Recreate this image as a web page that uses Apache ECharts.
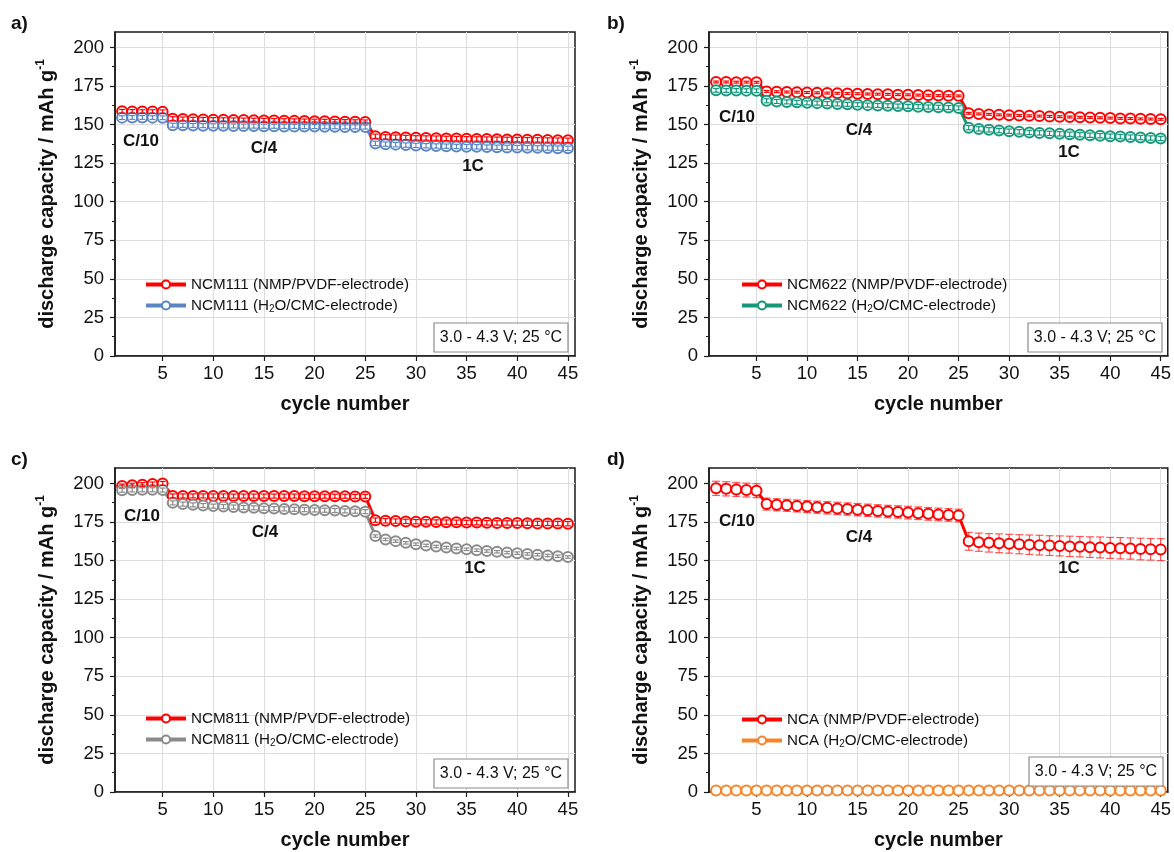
<!DOCTYPE html>
<html>
<head>
<meta charset="utf-8">
<title>Discharge capacity vs. cycle number</title>
<script src="https://cdn.jsdelivr.net/npm/echarts@6/dist/echarts.min.js"></script>
<style>
  html, body { margin: 0; padding: 0; background: #ffffff; }
  #chart { width: 1174px; height: 852px; }
</style>
</head>
<body>
<div id="chart"></div>
<script>
// ---- data -------------------------------------------------------------
const cycles = [1,2,3,4,5,6,7,8,9,10,11,12,13,14,15,16,17,18,19,20,21,22,23,24,25,
                26,27,28,29,30,31,32,33,34,35,36,37,38,39,40,41,42,43,44,45];
const xTicks = [5,10,15,20,25,30,35,40,45];
const yTicks = [0,25,50,75,100,125,150,175,200];

// a) NCM111
const ncm111Pvdf = [158.6,158.5,158.4,158.4,158.3,
  153.8,153.6,153.4,153.3,153.2,153.1,153.0,152.9,152.8,152.7,152.6,152.5,152.4,152.3,152.2,152.1,152.0,151.9,151.8,151.7,
  142.4,142.0,141.8,141.6,141.4,141.3,141.2,141.0,140.9,140.8,140.7,140.6,140.5,140.4,140.3,140.2,140.1,140.0,139.9,139.8];
const ncm111Cmc = [154.5,154.6,154.6,154.5,154.4,
  149.6,149.5,149.4,149.3,149.2,149.2,149.1,149.0,149.0,148.9,148.9,148.8,148.8,148.7,148.7,148.6,148.6,148.5,148.5,148.4,
  137.8,137.3,137.0,136.7,136.5,136.3,136.1,136.0,135.8,135.7,135.6,135.4,135.3,135.2,135.1,135.0,134.9,134.8,134.7,134.6];
const ncm111PvdfErr = [1.2,1.2,1.2,1.2,1.2, 1.3,1.3,1.3,1.3,1.3,1.3,1.3,1.3,1.3,1.3,1.3,1.3,1.3,1.3,1.3,1.3,1.3,1.3,1.3,1.3,
  1.4,1.4,1.4,1.4,1.4,1.4,1.4,1.4,1.4,1.4,1.4,1.4,1.4,1.4,1.4,1.4,1.4,1.4,1.4,1.4];
const ncm111CmcErr = [1.2,1.2,1.2,1.2,1.2, 1.3,1.3,1.3,1.3,1.3,1.3,1.3,1.3,1.3,1.3,1.3,1.3,1.3,1.3,1.3,1.3,1.3,1.3,1.3,1.3,
  1.4,1.4,1.4,1.4,1.4,1.4,1.4,1.4,1.4,1.4,1.4,1.4,1.4,1.4,1.4,1.4,1.4,1.4,1.4,1.4];

// b) NCM622
const ncm622Pvdf = [177.6,177.6,177.5,177.5,177.4,
  171.5,171.3,171.1,171.0,170.8,170.6,170.4,170.3,170.1,170.0,169.8,169.7,169.6,169.4,169.3,169.1,169.0,168.8,168.7,168.6,
  157.3,156.9,156.6,156.3,156.1,155.9,155.7,155.5,155.3,155.1,154.9,154.7,154.6,154.4,154.2,154.0,153.9,153.7,153.6,153.4];
const ncm622Cmc = [172.2,172.1,172.1,172.0,171.9,
  165.4,165.0,164.7,164.4,164.1,163.9,163.6,163.4,163.1,162.9,162.6,162.4,162.2,162.0,161.8,161.6,161.4,161.2,161.0,160.8,
  148.0,147.2,146.6,146.1,145.7,145.3,144.9,144.6,144.3,144.0,143.7,143.4,143.1,142.8,142.5,142.2,141.9,141.6,141.3,141.0];
const ncm622PvdfErr = [0.6,0.6,0.6,0.6,0.6, 0.6,0.6,0.6,0.6,0.6,0.6,0.6,0.6,0.6,0.6,0.6,0.6,0.6,0.6,0.6,0.6,0.6,0.6,0.6,0.6,
  0.6,0.6,0.6,0.6,0.6,0.6,0.6,0.6,0.6,0.6,0.6,0.6,0.6,0.6,0.6,0.6,0.6,0.6,0.6,0.6];
const ncm622CmcErr = [1.2,1.2,1.2,1.2,1.2, 1.3,1.3,1.3,1.3,1.3,1.3,1.3,1.3,1.3,1.3,1.3,1.3,1.3,1.3,1.3,1.3,1.3,1.3,1.3,1.3,
  1.4,1.4,1.4,1.4,1.4,1.4,1.4,1.4,1.4,1.4,1.4,1.4,1.4,1.4,1.4,1.4,1.4,1.4,1.4,1.4];

// c) NCM811
const ncm811Pvdf = [198.3,198.8,199.2,199.6,200.0,
  191.9,191.9,191.9,191.9,191.9,191.9,191.8,191.8,191.8,191.8,191.8,191.8,191.8,191.7,191.7,191.7,191.7,191.7,191.6,191.6,
  176.2,175.8,175.6,175.4,175.2,175.1,175.0,174.9,174.8,174.7,174.6,174.5,174.4,174.4,174.3,174.2,174.1,174.1,174.0,173.9];
const ncm811Cmc = [195.6,195.8,195.9,195.9,195.7,
  187.4,186.6,186.1,185.7,185.3,185.0,184.7,184.4,184.2,183.9,183.7,183.5,183.2,183.0,182.8,182.6,182.4,182.2,182.0,181.7,
  165.9,163.7,162.6,161.5,160.6,159.8,159.1,158.4,157.8,157.3,156.7,156.2,155.7,155.2,154.8,154.3,153.8,153.3,152.8,152.3];
const ncm811PvdfErr = [1.3,1.3,1.3,1.3,1.3, 1.3,1.3,1.3,1.3,1.3,1.3,1.3,1.3,1.3,1.3,1.3,1.3,1.3,1.3,1.3,1.3,1.3,1.3,1.3,1.3,
  1.4,1.4,1.4,1.4,1.4,1.4,1.4,1.4,1.4,1.4,1.4,1.4,1.4,1.4,1.4,1.4,1.4,1.4,1.4,1.4];
const ncm811CmcErr = [1.3,1.3,1.3,1.3,1.3, 1.3,1.3,1.3,1.3,1.3,1.3,1.3,1.3,1.3,1.3,1.3,1.3,1.3,1.3,1.3,1.3,1.3,1.3,1.3,1.3,
  0.8,0.8,0.8,0.8,0.8,0.8,0.8,0.8,0.8,0.8,0.8,0.8,0.8,0.8,0.8,0.8,0.8,0.8,0.8,0.8];

// d) NCA
const ncaPvdf = [196.8,196.5,196.1,195.7,195.3,
  186.6,186.2,185.8,185.4,185.0,184.6,184.2,183.8,183.4,183.0,182.6,182.2,181.8,181.5,181.1,180.7,180.3,179.9,179.6,179.2,
  162.5,161.9,161.5,161.2,160.9,160.6,160.3,160.0,159.7,159.5,159.2,159.0,158.7,158.5,158.2,158.0,157.8,157.5,157.3,157.1];
const ncaPvdfErr = [4.6,4.6,4.5,4.5,4.5,
  3.9,3.9,3.9,3.9,3.9,3.9,4.0,4.0,4.0,4.0,4.0,4.0,4.0,4.0,4.1,4.1,4.1,4.1,4.1,4.1,
  5.8,5.9,6.0,6.1,6.1,6.2,6.3,6.4,6.4,6.5,6.6,6.6,6.7,6.8,6.8,6.9,6.9,7.0,7.0,7.1];
const ncaCmc = [1.0,1.0,1.0,1.0,1.0,1.0,1.0,1.0,1.0,1.0,1.0,1.0,1.0,1.0,1.0,1.0,1.0,1.0,1.0,1.0,1.0,1.0,1.0,1.0,1.0,
  1.0,1.0,1.0,1.0,1.0,1.0,1.0,1.0,1.0,1.0,1.0,1.0,1.0,1.0,1.0,1.0,1.0,1.0,1.0,1.0];

// ---- layout & style ---------------------------------------------------
const FONT = '"Liberation Sans", Arial, Helvetica, sans-serif';
const RED = '#ff0000';
const panels = [
  { key: 'a)', grid: { left: 115, top: 32 },
    series: [
      { name: 'NCM111 (NMP/PVDF-electrode)', data: ncm111Pvdf, err: ncm111PvdfErr, color: RED },
      { name: 'NCM111 (H2O/CMC-electrode)',  data: ncm111Cmc,  err: ncm111CmcErr,  color: '#5b86c2' } ],
    legend: { left: 144, top: 277 },
    rates: [[141, 141], [264, 148], [473, 166]],
    condBox: [434, 323] },
  { key: 'b)', grid: { left: 709, top: 32 },
    series: [
      { name: 'NCM622 (NMP/PVDF-electrode)', data: ncm622Pvdf, err: ncm622PvdfErr, color: RED },
      { name: 'NCM622 (H2O/CMC-electrode)',  data: ncm622Cmc,  err: ncm622CmcErr,  color: '#16977a' } ],
    legend: { left: 740, top: 277 },
    rates: [[737, 117], [859, 130], [1069, 152]],
    condBox: [1028, 323] },
  { key: 'c)', grid: { left: 115, top: 468 },
    series: [
      { name: 'NCM811 (NMP/PVDF-electrode)', data: ncm811Pvdf, err: ncm811PvdfErr, color: RED },
      { name: 'NCM811 (H2O/CMC-electrode)',  data: ncm811Cmc,  err: ncm811CmcErr,  color: '#8a8a8a' } ],
    legend: { left: 144, top: 711 },
    rates: [[142, 516], [265, 532], [475, 568]],
    condBox: [434, 759] },
  { key: 'd)', grid: { left: 709, top: 468 },
    series: [
      { name: 'NCA (NMP/PVDF-electrode)', data: ncaPvdf, err: ncaPvdfErr, color: RED, errBelow: true },
      { name: 'NCA (H2O/CMC-electrode)',  data: ncaCmc,  err: null,       color: '#f5842a' } ],
    legend: { left: 740, top: 712 },
    rates: [[737, 521], [859, 537], [1069, 568]],
    condBox: [1029, 757] }
];
const GRID_W = 460, GRID_H = 324;

function legendLabel(name) {
  const i = name.indexOf('H2O');
  if (i < 0) return '{t|' + name + '}';
  return '{t|' + name.slice(0, i) + 'H}{s|2}{t|' + name.slice(i + 2) + '}';
}

function errorBars(idx, vals, errs, color, z, capW, lw, opacity) {
  return {
    type: 'custom', xAxisIndex: idx, yAxisIndex: idx, z: z, silent: true, clip: false,
    data: vals.map((v, i) => [cycles[i], v, errs[i]]),
    encode: { x: 0, y: 1 },
    renderItem: function (params, api) {
      const x = api.value(0), y = api.value(1), e = api.value(2);
      const t = api.coord([x, y + e]);
      const b = api.coord([x, y - e]);
      const st = { stroke: color, lineWidth: lw, opacity: opacity };
      return { type: 'group', children: [
        { type: 'line', shape: { x1: t[0], y1: t[1], x2: b[0], y2: b[1] }, style: st },
        { type: 'line', shape: { x1: t[0] - capW / 2, y1: t[1], x2: t[0] + capW / 2, y2: t[1] }, style: st },
        { type: 'line', shape: { x1: b[0] - capW / 2, y1: b[1], x2: b[0] + capW / 2, y2: b[1] }, style: st }
      ] };
    }
  };
}

const grids = [], xAxes = [], yAxes = [], series = [], legends = [], graphics = [];

panels.forEach((p, idx) => {
  grids.push({ left: p.grid.left, top: p.grid.top, width: GRID_W, height: GRID_H,
    show: true, borderColor: '#1a1a1a', borderWidth: 1.5, backgroundColor: '#ffffff' });

  xAxes.push({
    type: 'value', gridIndex: idx, min: 0.3, max: 45.7,
    name: 'cycle number', nameLocation: 'middle', nameGap: 38,
    nameTextStyle: { fontFamily: FONT, fontSize: 20, fontWeight: 'bold', color: '#111' },
    axisLine: { show: true, lineStyle: { color: '#1a1a1a', width: 1.5 } },
    axisTick: { show: true, length: 5, customValues: xTicks, lineStyle: { color: '#1a1a1a', width: 1.2 } },
    axisLabel: { customValues: xTicks, margin: 8, fontFamily: FONT, fontSize: 18.5, color: '#111' },
    splitLine: { show: true, lineStyle: { color: '#dcdcdc', width: 1 } }
  });

  yAxes.push({
    type: 'value', gridIndex: idx, min: 0, max: 210, interval: 25,
    name: '{n|discharge capacity / mAh g}{sup|-1}', nameLocation: 'middle', nameGap: 56,
    nameRotate: 90,
    nameTextStyle: { fontFamily: FONT, color: '#111',
      rich: {
        n: { fontFamily: FONT, fontSize: 20, fontWeight: 'bold', color: '#111' },
        sup: { fontFamily: FONT, fontSize: 12, fontWeight: 'bold', color: '#111', padding: [0, 0, 12, 0] }
      } },
    axisLine: { show: true, lineStyle: { color: '#1a1a1a', width: 1.5 } },
    axisTick: { show: true, length: 5, customValues: yTicks, lineStyle: { color: '#1a1a1a', width: 1.2 } },
    minorTick: { show: true, splitNumber: 2, length: 3, lineStyle: { color: '#1a1a1a', width: 1 } },
    axisLabel: { customValues: yTicks, margin: 11, fontFamily: FONT, fontSize: 18.5, color: '#111' },
    splitLine: { show: true, lineStyle: { color: '#dcdcdc', width: 1 } }
  });

  p.series.forEach(s => {
    series.push({
      type: 'line', name: s.name, xAxisIndex: idx, yAxisIndex: idx,
      data: s.data.map((v, i) => [cycles[i], v]),
      symbol: 'circle', symbolSize: 10, showSymbol: true, clip: false,
      lineStyle: { color: s.color, width: 3 },
      itemStyle: { color: '#ffffff', borderColor: s.color, borderWidth: 2 },
      z: 2, animation: false
    });
    if (s.err) {
      if (s.errBelow) series.push(errorBars(idx, s.data, s.err, s.color, 1, 8, 1.2, 0.65));
      else series.push(errorBars(idx, s.data, s.err, s.color, 3, 6, 1.2, 1));
    }
  });

  legends.push({
    data: p.series.map(s => s.name),
    left: p.legend.left, top: p.legend.top, orient: 'vertical',
    itemWidth: 40, itemHeight: 10, itemGap: 5, padding: 0,
    selectedMode: false,
    lineStyle: { width: 4 },
    formatter: legendLabel,
    textStyle: { fontFamily: FONT, color: '#111',
      rich: {
        t: { fontFamily: FONT, fontSize: 15.2, color: '#111', lineHeight: 17 },
        s: { fontFamily: FONT, fontSize: 10, color: '#111', lineHeight: 17, padding: [7, 0, 0, 0] }
      } }
  });

  // panel letter
  graphics.push({ type: 'text', left: p.key.startsWith('a') || p.key.startsWith('c') ? 11 : 607,
    top: p.grid.top - 18, z: 100,
    style: { text: p.key, font: 'bold 19px ' + FONT, fill: '#111' } });

  // C-rate annotations
  const rateNames = ['C/10', 'C/4', '1C'];
  p.rates.forEach((r, k) => {
    graphics.push({ type: 'text', x: r[0], y: r[1], z: 100,
      style: { text: rateNames[k], font: 'bold 17px ' + FONT, fill: '#111',
        textAlign: 'center', textVerticalAlign: 'middle' } });
  });

  // test conditions box
  graphics.push({ type: 'rect', shape: { x: p.condBox[0], y: p.condBox[1], width: 134, height: 29 },
    style: { fill: '#ffffff', stroke: '#8c8c8c', lineWidth: 1.2 }, z: 100 });
  graphics.push({ type: 'text', x: p.condBox[0] + 67, y: p.condBox[1] + 15, z: 101,
    style: { text: '3.0 - 4.3 V; 25 °C', font: '16px ' + FONT, fill: '#111',
      textAlign: 'center', textVerticalAlign: 'middle' } });
});

const chart = echarts.init(document.getElementById('chart'), null, { renderer: 'canvas' });
chart.setOption({
  backgroundColor: '#ffffff',
  animation: false,
  grid: grids,
  xAxis: xAxes,
  yAxis: yAxes,
  legend: legends,
  series: series,
  graphic: graphics
});
</script>
</body>
</html>
